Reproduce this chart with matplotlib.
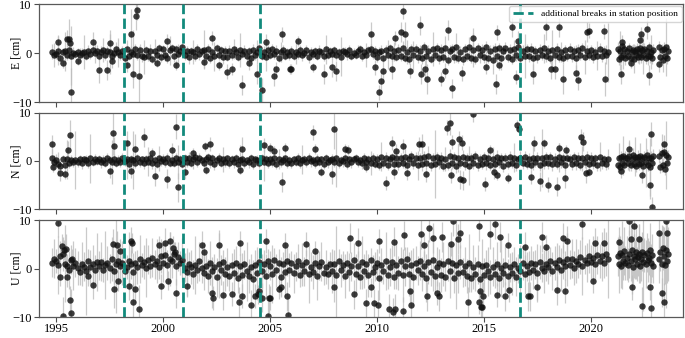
import numpy as np
import matplotlib.pyplot as plt

plt.rcParams['font.family'] = ['Liberation Serif', 'DejaVu Serif']

# -----------------------------
# Sampling epochs (decimal year)
# -----------------------------
t_main = np.round(np.arange(1994.8, 2020.85, 0.1), 2)   # 261 epochs
t_c1 = np.round(np.arange(2021.25, 2021.62, 0.05), 2)   # 8
t_c2 = np.round(np.arange(2021.70, 2022.92, 0.05), 2)   # 25
t_c3 = np.round(np.arange(2023.20, 2023.62, 0.05), 2)   # 9
t_all = np.concatenate([t_main, t_c1, t_c2, t_c3])

breaks = [1998.15, 2000.95, 2004.53, 2016.68]

# -----------------------------
# East [cm]
# -----------------------------
E_vals = [
    0.3, -0.4,
    -0.2, 0.5, -1.0, 0.2, 0.4, -0.3, 0.6, -0.5, 0.1, -0.2,
    0.2, -0.4, 0.1, 0.3, -0.5, 0.4, -0.2, 0.6, 0.0, 0.5,
    -0.6, 0.3, 0.7, -0.4, 0.4, 0.2, -0.5, 0.1, 0.8, 0.2,
    -0.3, 0.5, -1.0, 0.8, -0.6, 0.3, -0.2, 0.9, -0.4, 0.6,
    -0.5, -0.8, 0.6, -0.5, 0.4, -1.2, 0.5, -0.3, 1.0, -0.7,
    0.9, -0.4, -0.9, 0.6, 1.0, -0.6, 0.8, -0.2, 0.5, 1.2,
    -0.3, 0.5, -0.8, 0.4, 0.3, -0.6, 0.9, -0.2, 0.4, 0.7,
    -0.5, 0.8, -0.9, 0.3, -0.6, 1.0, -0.3, 0.6, -0.8, 0.4,
    -0.7, 0.5, -0.4, 0.9, 0.3, -0.8, 0.6, -0.1, 0.5, -0.6,
    0.4, -0.9, 0.7, -0.3, 0.2, 1.1, -0.5, 0.3, -0.7, 0.6,
    -0.4, 0.8, -0.2, 0.5, -0.9, 0.3, 0.6, -0.5, 0.2, -0.3,
    0.5, -0.6, 0.3, -0.2, 0.7, -0.4, 0.1, 0.6, -0.8, 0.3,
    -0.2, 0.4, -0.6, 0.5, 0.2, -0.5, 0.8, -0.3, 0.4, -0.1,
    0.6, -0.4, 0.2, -0.7, 0.5, 0.3, -0.2, 0.7, -0.5, 0.1,
    -0.3, 0.5, 0.8, -0.6, 0.2, -0.4, 0.6, 0.9, -0.2, 0.4,
    -0.7, 0.3, 0.5, -0.9, 0.6, -0.3, 1.0, -0.6, 0.4, -0.8,
    0.7, -0.5, 1.1, -0.9, 0.3, -1.2, 0.8, -0.4, 0.9, -0.7,
    0.5, -1.0, 1.2, -0.6, 0.4, -1.1, 0.8, -0.3, 1.0, -0.9,
    0.6, -0.8, 1.1, -1.3, 0.4, 0.9, -0.7, 1.2, -1.0, 0.3,
    -1.1, 0.8, -0.5, 1.3, -0.9, 0.6, -1.2, 1.0, -0.4, 0.7,
    -0.8, 1.2, -1.0, 0.5, -1.3, 0.9, -0.6, 1.1, -0.9, 0.4,
    1.0, -0.7, 0.6, -1.1, 0.8, -0.4, 1.2, -0.9, 0.5, -0.6,
    0.8, -0.5, 0.9, -1.0, 0.4, -0.8, 0.7, -0.3, 1.0, -0.6,
    0.5, -0.9, 0.7, -0.4, 0.9, -0.7, 0.3, -1.0, 0.6, -0.5,
    0.8, -0.6, 0.4, -0.9, 0.7, -0.3, 1.0, -0.7, 0.5, -0.4,
    0.6, -0.8, 0.3, -0.5, 0.9, -0.6, 0.4, -0.3, 0.2,
    # 2021-2023 clusters
    0.8, -1.2, 0.5, -0.7, 1.4, -0.3, 0.9, -1.0,
    0.4, -0.6, 1.0, -0.9, 0.3, 0.7, -1.1, 0.5, -0.4, 0.9, -0.7, 0.2, 1.1,
    -0.8, 0.6, -0.3, 0.8, -1.0, 0.4, -0.5, 1.2, -0.6, 0.3, -0.9, 0.7,
    1.2, -0.8, 0.6, -1.4, 0.9, -0.5, 1.3, -1.0, 0.4,
]
E_err_mm = [
    15, 25,
    10, 30, 12, 8, 40, 10, 9, 60, 12, 8,
    9, 14, 10, 35, 8, 12, 10, 9, 20, 11,
    8, 12, 25, 9, 10, 45, 11, 8, 14, 30,
    10, 9, 12, 20, 8, 11, 50, 10, 9, 13,
    12, 35, 9, 10, 14, 8, 25, 11, 9, 10,
    8, 11, 10, 30, 9, 12, 8, 20, 10, 9,
    11, 9, 14, 8, 25, 10, 9, 12, 8, 40,
    9, 10, 12, 8, 30, 9, 11, 8, 15, 10,
    8, 12, 9, 20, 10, 8, 35, 9, 11, 10,
    9, 8, 12, 10, 25, 9, 8, 11, 30, 10,
    8, 10, 9, 12, 8, 20, 10, 9, 8, 11,
    9, 8, 25, 10, 9, 11, 8, 10, 12, 9,
    10, 9, 8, 11, 9, 10, 30, 8, 9, 10,
    8, 10, 9, 40, 8, 9, 11, 10, 8, 9,
    9, 11, 8, 10, 9, 25, 8, 10, 9, 11,
    10, 9, 12, 8, 11, 30, 9, 10, 20, 8,
    12, 10, 15, 9, 25, 11, 10, 30, 9, 12,
    11, 13, 10, 20, 12, 9, 35, 11, 10, 14,
    12, 10, 25, 11, 13, 9, 12, 30, 10, 11,
    13, 11, 10, 20, 12, 35, 10, 11, 15, 12,
    11, 14, 10, 12, 30, 11, 13, 10, 25, 12,
    12, 10, 13, 11, 20, 12, 10, 14, 11, 45,
    10, 12, 11, 25, 10, 13, 11, 10, 30, 12,
    11, 10, 40, 12, 11, 10, 20, 13, 11, 10,
    12, 11, 10, 25, 12, 10, 11, 35, 12, 10,
    11, 13, 10, 30, 12, 11, 10, 20, 60,
    15, 12, 40, 14, 13, 30, 12, 15,
    12, 14, 11, 20, 13, 12, 30, 11, 14, 12, 13, 25, 12,
    11, 14, 40, 12, 13, 11, 20, 12, 14, 35, 13, 12,
    14, 16, 13, 25, 15, 14, 60, 13, 15,
]
E_out_t = [1995.1, 1995.3, 1995.5, 1995.6, 1995.65, 1995.7, 1996.0, 1996.7, 1997.0, 1997.4,
           1997.5, 1997.6, 1998.3, 1998.5, 1998.6, 1998.75, 1998.8, 1998.85, 1999.7, 2000.2,
           2000.6, 2001.9, 2002.3, 2002.6, 2003.0, 2003.2, 2003.7, 2004.0, 2004.4, 2004.6,
           2004.8, 2005.2, 2005.3, 2005.55, 2005.95, 2006.0, 2006.3, 2007.0, 2007.5, 2007.9,
           2008.1, 2009.7, 2009.9, 2010.1, 2010.2, 2010.3, 2010.7, 2010.85, 2011.1, 2011.2,
           2011.3, 2011.55, 2012.0, 2012.05, 2012.25, 2012.35, 2013.0, 2013.2, 2013.3, 2013.5,
           2013.95, 2014.5, 2015.1, 2015.56, 2015.6, 2015.7, 2016.3, 2016.5, 2016.6, 2017.3,
           2017.9, 2018.15, 2018.3, 2018.5, 2018.7, 2019.3, 2019.4, 2019.8, 2019.9, 2020.6,
           2020.65, 2021.4, 2021.45, 2021.85, 2022.3, 2022.35, 2022.6, 2022.7, 2023.2]
E_out_v = [2.2, -1.9, 3.0, 3.0, 2.1, -8.0, -1.5, 2.3, -3.5, -3.4,
           2.0, -1.5, -2.4, 4.0, -4.2, 7.7, 8.8, -4.6, -1.9, 2.5,
           -2.4, -1.8, 3.1, -2.5, -3.8, -3.3, -6.5, -2.0, -4.3, -7.5,
           2.4, -4.7, -3.3, 3.9, -3.3, -3.3, 2.5, -2.9, -4.3, -2.9,
           -3.6, 3.9, -2.9, -8.0, -5.7, -3.6, -3.3, 3.1, 4.3, 8.6,
           3.9, -3.6, 5.7, -4.3, -3.3, -5.3, -5.3, -3.6, 4.8, -7.2,
           -4.1, 3.2, -2.8, -6.3, 4.3, -2.5, 5.3, -4.9, 2.5, -4.3,
           5.3, -3.3, -3.2, 5.3, -5.3, -4.0, -5.5, 4.3, 4.6, 4.5,
           -5.3, -4.3, 2.3, -2.0, 2.7, 3.9, 4.9, -4.5, -2.3]
E_out_s = [1.5, 1.2, 1.8, 4.0, 1.0, 5.0, 1.0, 2.0, 2.5, 2.0,
           2.0, 1.5, 1.5, 5.0, 3.0, 3.0, 2.0, 6.0, 1.0, 1.5,
           1.0, 1.2, 1.5, 1.0, 1.5, 1.2, 2.0, 1.5, 2.0, 2.5,
           1.5, 2.0, 1.5, 1.5, 1.0, 1.0, 1.0, 1.0, 2.0, 2.0,
           2.0, 2.5, 1.5, 1.5, 2.0, 2.5, 2.0, 1.5, 2.0, 1.5,
           2.5, 1.5, 2.0, 2.0, 2.0, 3.0, 1.5, 1.5, 2.0, 2.0,
           1.5, 2.0, 1.5, 2.0, 1.5, 1.0, 2.0, 1.5, 2.0, 2.0,
           2.5, 2.0, 2.0, 2.0, 3.0, 1.5, 2.0, 2.0, 1.5, 1.5,
           3.5, 2.0, 1.5, 1.0, 1.0, 1.5, 2.0, 2.0, 1.5]

# -----------------------------
# North [cm]
# -----------------------------
N_vals = [
    0.5, -0.3,
    0.2, -0.6, -1.0, 0.4, -0.8, 0.3, -0.5, 0.1, -0.3, 0.2,
    -0.2, 0.4, -0.5, 0.3, 0.1, -0.4, 0.5, -0.2, 0.3, -0.1,
    0.4, -0.3, 0.2, -0.5, 0.5, 0.1, -0.2, 0.4, -0.4, 0.2,
    -0.3, 0.5, -0.1, 0.3, -0.6, 0.4, 0.1, -0.4, 0.6, -0.2,
    0.3, -0.5, 0.4, -0.2, 0.6, -0.4, 0.2, -0.6, 0.5, -0.1,
    0.4, -0.3, 0.6, -0.5, 0.2, -0.4, 0.5, -0.2, 0.3, -0.6,
    0.5, -0.2, 0.7, -0.4, 0.3, 0.8, -0.3, 0.6, 0.1, -0.5,
    0.4, 0.9, -0.3, 0.5, -0.6, 0.2, 0.7, -0.4, 0.3, -0.2,
    0.5, -0.5, 0.3, -0.3, 0.6, -0.6, 0.2, 0.4, -0.4, 0.1,
    -0.3, 0.5, -0.6, 0.3, 0.1, -0.4, 0.6, -0.2, 0.4, -0.5,
    0.3, -0.2, 0.5, -0.6, 0.4, -0.3, 0.2, 0.6, -0.4, 0.1,
    -0.4, 0.3, -0.2, 0.5, -0.5, 0.2, 0.4, -0.3, 0.6, -0.1,
    0.2, -0.5, 0.4, -0.2, 0.3, -0.6, 0.5, -0.3, 0.1, 0.4,
    -0.3, 0.6, -0.4, 0.2, -0.1, 0.5, -0.6, 0.3, -0.2, 0.4,
    0.5, -0.3, 0.2, -0.5, 0.6, -0.2, 0.3, -0.4, 0.7, -0.6,
    0.4, -0.8, 0.9, -0.5, 0.6, -0.9, 0.3, 0.8, -0.6, 0.5,
    -0.7, 0.6, -0.4, 0.9, -0.8, 0.3, 1.0, -0.5, 0.7, -0.9,
    0.6, -0.7, 0.8, -0.4, 1.0, -0.9, 0.5, -0.6, 0.9, -0.3,
    0.7, -1.0, 0.4, -0.8, 1.1, -0.5, 0.8, -1.1, 0.6, -0.4,
    0.9, -0.7, 0.5, -1.0, 0.7, -0.4, 1.0, -0.8, 0.3, -0.6,
    0.8, -0.5, 0.6, -0.9, 0.4, -0.7, 0.9, -0.3, 0.7, -1.0,
    0.5, -0.6, 0.8, -0.4, 0.6, -0.9, 0.3, 0.7, -0.5, 0.9,
    -0.6, 0.4, -0.8, 0.7, -0.3, 0.6, -0.9, 0.5, -0.4, 0.8,
    -0.5, 0.9, -0.7, 0.4, -0.6, 0.8, -0.3, 0.6, -0.8, 0.5,
    0.3, -0.7, 0.9, -0.4, 0.6, -0.9, 0.5, -0.3, 0.8, -0.6,
    0.7, -0.4, 0.5, -0.8, 0.9, -0.5, 0.3, -0.6, 0.4,
    -0.8, 0.6, -1.2, 0.9, -0.4, 1.1, -0.9, 0.5,
    0.7, -0.5, 1.0, -0.8, 0.4, 1.2, -0.6, 0.9, -1.1, 0.3, 0.8, -0.7, 1.1,
    -0.4, 0.6, -1.0, 0.9, -0.3, 1.2, -0.8, 0.5, -1.2, 0.7, -0.5, 1.0,
    1.0, -1.3, 1.6, -0.8, 1.9, -1.6, 1.2, -0.5, 0.8,
]
N_err_mm = [
    20, 15,
    12, 25, 10, 9, 14, 40, 10, 12, 9, 60,
    10, 9, 12, 8, 11, 10, 50, 9, 12, 8,
    9, 11, 10, 8, 12, 9, 45, 10, 8, 11,
    10, 12, 9, 40, 10, 8, 60, 11, 9, 10,
    8, 11, 9, 30, 10, 12, 8, 9, 25, 10,
    11, 9, 10, 8, 12, 9, 11, 35, 10, 8,
    9, 10, 12, 8, 20, 10, 9, 11, 8, 12,
    10, 8, 11, 9, 12, 8, 10, 9, 25, 11,
    8, 10, 9, 12, 8, 11, 30, 9, 10, 8,
    11, 9, 10, 8, 12, 10, 9, 40, 8, 10,
    9, 11, 8, 10, 20, 9, 10, 8, 11, 9,
    10, 8, 9, 11, 10, 30, 8, 9, 10, 12,
    8, 10, 11, 9, 8, 10, 9, 12, 8, 11,
    9, 60, 10, 8, 11, 9, 10, 8, 12, 9,
    10, 9, 8, 11, 10, 12, 9, 25, 10, 8,
    11, 10, 30, 9, 12, 10, 11, 9, 20, 10,
    12, 11, 10, 25, 11, 13, 10, 12, 11, 30,
    11, 13, 12, 10, 20, 11, 12, 70, 10, 13,
    12, 10, 25, 11, 13, 12, 10, 14, 30, 11,
    13, 11, 12, 40, 10, 12, 11, 13, 12, 10,
    11, 14, 12, 10, 25, 11, 13, 12, 10, 12,
    12, 10, 13, 11, 30, 12, 10, 14, 11, 12,
    10, 12, 11, 25, 10, 13, 11, 60, 12, 10,
    11, 10, 13, 12, 11, 30, 12, 10, 11, 13,
    12, 11, 10, 14, 12, 10, 25, 11, 13, 12,
    11, 13, 10, 12, 30, 11, 10, 12, 20,
    15, 30, 14, 12, 16, 40, 13, 15,
    12, 14, 30, 13, 12, 15, 11, 40, 13, 12, 14, 12, 25,
    13, 11, 14, 12, 50, 13, 12, 14, 60, 13, 12, 14,
    15, 13, 40, 14, 16, 13, 70, 14, 15,
]
N_out_t = [1994.8, 1994.85, 1995.2, 1995.4, 1995.55, 1995.65, 1997.5, 1997.65, 1997.7, 1998.3,
           1998.5, 1998.7, 1999.1, 1999.5, 1999.6, 2000.2, 2000.4, 2000.6, 2000.7, 2001.0,
           2001.4, 2001.95, 2002.2, 2002.0, 2003.7, 2003.6, 2004.7, 2005.0, 2005.2, 2005.55,
           2005.7, 2007.0, 2007.1, 2007.4, 2007.9, 2008.0, 2008.5, 2008.65, 2009.5, 2010.4,
           2010.7, 2010.8, 2010.9, 2011.2, 2011.4, 2011.95, 2012.1, 2012.3, 2013.25, 2013.4,
           2013.5, 2013.45, 2013.9, 2013.85, 2014.5, 2013.95, 2014.0, 2015.05, 2015.3, 2015.45,
           2015.6, 2016.1, 2016.55, 2016.65, 2017.2, 2017.6, 2017.35, 2017.8, 2018.0, 2018.4,
           2018.5, 2018.8, 2018.85, 2019.55, 2019.65, 2019.75, 2019.9, 2021.8, 2021.4, 2022.4,
           2022.8, 2022.75, 2022.85, 2023.4]
N_out_v = [3.4, -1.3, -2.6, -2.8, 2.2, 5.4, -2.0, 5.8, 3.0, 3.6,
           -2.0, 2.5, 4.9, 1.7, -3.2, -3.7, 2.2, 7.1, -5.5, -2.2,
           1.7, 3.0, 3.5, -1.8, 2.4, -1.8, 3.3, 2.7, 2.1, -4.4,
           2.6, 5.9, 2.4, -2.2, -2.7, 6.5, 2.5, 2.2, -1.2, -4.6,
           3.7, -2.3, 2.0, 3.1, -2.5, 3.5, 3.5, -2.8, 6.9, 7.9,
           3.9, -3.0, -3.8, 4.6, 9.6, 3.8, -4.0, -4.8, 2.3, -2.3,
           -3.0, -3.5, 7.4, 6.7, -3.3, -4.2, 3.6, 3.6, -4.9, -5.3,
           2.6, -3.6, 2.3, 5.0, 4.0, -2.5, -2.2, 2.4, -2.0, -3.0,
           5.6, -4.9, -9.5, 3.4]
N_out_s = [2.0, 1.0, 1.5, 1.0, 2.0, 3.0, 1.5, 4.5, 2.0, 2.5,
           1.5, 3.0, 2.0, 1.0, 2.0, 2.0, 1.5, 2.5, 3.0, 1.5,
           1.0, 1.0, 1.5, 1.0, 2.5, 1.0, 1.5, 1.0, 1.0, 2.0,
           1.0, 1.5, 1.0, 1.0, 2.0, 4.0, 1.0, 1.0, 1.0, 1.5,
           1.5, 1.5, 1.5, 1.5, 1.5, 1.5, 2.0, 1.5, 1.5, 2.5,
           1.5, 1.5, 2.0, 1.5, 1.5, 1.5, 2.0, 1.5, 1.0, 1.5,
           1.0, 1.0, 1.0, 1.0, 1.5, 2.0, 1.5, 1.0, 1.5, 2.0,
           1.0, 2.0, 1.0, 1.5, 2.0, 2.0, 1.0, 2.0, 1.5, 1.5,
           2.5, 3.0, 2.0, 2.0]

# -----------------------------
# Up [cm]
# -----------------------------
U_vals = [
    1.2, 2.0,
    1.5, 0.8, 2.6, 3.0, 1.0, 0.5, -0.3, 1.8, 0.6, 1.2,
    0.2, -0.8, 1.0, 0.4, -0.5, 1.5, 0.3, 0.9, -0.2, 1.3,
    0.6, 1.4, -0.3, 0.8, 1.2, 0.1, 1.9, -0.6, 0.9, 1.6,
    0.5, 1.1, -0.5, 0.3, 1.6, 0.9, -0.8, 1.2, 0.4, 2.0,
    0.7, 1.3, 0.2, 1.8, 0.6, 2.2, 0.9, 1.5, 0.3, 2.5,
    1.2, 2.8, 0.8, 2.0, 1.5, 3.0, 0.6, 2.4, 1.1, 1.8,
    0.2, -0.8, 1.0, 0.3, -1.2, 0.8, -0.4, 1.5, 0.1, -0.9,
    0.6, -1.5, 1.2, -0.6, 0.4, -1.8, 0.9, -0.3, 1.4, -1.1,
    0.3, -1.6, 0.8, -0.9, 1.2, -2.0, 0.5, -1.3, 0.9, -0.6,
    -1.5, 0.4, -2.2, 0.8, -1.0, 1.3, -0.5, 0.9, -1.6, 1.5,
    0.6, -1.2, 1.8, -0.4, 1.1, -1.7, 0.9, -0.8, 1.5, -0.3,
    1.2, -1.0, 0.5, 1.6, -1.4, 0.8, -0.6, 1.3, -1.1, 0.4,
    -0.8, 1.1, -1.5, 0.6, 1.4, -0.9, 0.3, -1.2, 1.0, -0.5,
    0.9, -1.3, 1.5, -0.4, 0.7, -1.6, 1.2, -0.7, 0.5, 1.8,
    -1.1, 0.6, -1.8, 1.3, -0.5, 0.9, -1.4, 1.7, -0.8, 0.4,
    1.1, -1.9, 0.7, -0.6, 1.6, -1.3, 0.3, 1.4, -1.7, 0.8,
    -0.9, 1.5, -1.4, 0.5, 1.9, -1.1, 0.8, -1.8, 1.2, -0.4,
    1.6, -1.2, 0.6, -1.9, 1.3, -0.7, 1.8, -1.5, 0.4, 1.1,
    -1.3, 0.9, -1.7, 1.5, -0.6, 1.2, -2.0, 0.7, -1.0, 1.4,
    -0.8, 0.5, -1.6, 1.1, -1.9, 0.3, -1.2, 0.9, -2.1, 0.6,
    -1.4, 0.8, -0.6, -1.8, 0.4, -1.1, 1.0, -2.0, 0.2, -0.9,
    0.7, -1.5, 0.3, -1.0, 0.9, -1.7, 0.1, -0.6, 1.1, -1.2,
    0.5, -0.8, 1.2, -0.3, 0.9, -1.0, 1.4, 0.2, -0.6, 1.0,
    0.4, 1.5, -0.5, 1.1, 0.3, 1.8, -0.2, 1.3, 0.6, 1.9,
    0.8, 2.0, 0.2, 1.6, 1.0, 2.4, 0.5, 1.8, 1.2, 2.6,
    1.4, 2.2, 0.9, 2.8, 1.6, 2.5, 1.1, 3.0, 2.0,
    2.5, 1.0, 3.2, 0.5, 2.8, 1.6, 3.6, 1.2,
    2.2, 0.8, 3.0, 1.5, 3.8, 0.4, 2.6, 1.9, 3.4, 1.0, 2.4, 3.1, 0.6,
    2.0, 3.5, 1.3, 2.8, 0.9, 3.3, 1.7, 2.2, 3.9, 1.1, 2.7, 0.5,
    2.0, 3.5, 1.0, 4.2, 2.6, 0.8, 3.8, 1.5, 3.0,
]
U_err_mm = [
    30, 40,
    25, 60, 30, 35, 80, 25, 40, 30, 50, 30,
    35, 25, 45, 30, 90, 25, 35, 40, 30, 60,
    30, 40, 25, 70, 35, 30, 45, 25, 100, 35,
    30, 45, 35, 25, 60, 30, 40, 25, 35, 50,
    25, 35, 60, 30, 25, 40, 30, 45, 25, 35,
    40, 25, 30, 55, 35, 25, 40, 30, 25, 45,
    30, 50, 25, 35, 30, 60, 25, 40, 30, 35,
    25, 35, 45, 30, 25, 40, 70, 30, 25, 35,
    40, 30, 25, 50, 35, 30, 25, 45, 30, 60,
    35, 25, 40, 30, 55, 25, 35, 30, 45, 25,
    30, 60, 25, 35, 30, 40, 25, 50, 30, 35,
    25, 40, 30, 35, 25, 45, 30, 25, 60, 30,
    35, 25, 50, 30, 40, 25, 35, 30, 25, 45,
    30, 100, 25, 35, 30, 45, 25, 40, 30, 35,
    40, 30, 25, 55, 35, 30, 45, 25, 35, 30,
    30, 45, 35, 25, 60, 30, 40, 35, 25, 50,
    35, 30, 55, 40, 25, 45, 30, 60, 35, 30,
    40, 35, 30, 50, 45, 30, 65, 35, 40, 30,
    35, 45, 30, 40, 55, 35, 30, 90, 40, 35,
    30, 40, 35, 60, 30, 45, 35, 40, 30, 55,
    35, 30, 50, 35, 40, 30, 45, 35, 60, 30,
    40, 35, 30, 45, 35, 40, 30, 55, 35, 40,
    30, 45, 35, 40, 30, 60, 35, 30, 45, 35,
    35, 30, 40, 35, 50, 30, 45, 35, 30, 55,
    30, 40, 35, 45, 30, 35, 60, 30, 40, 35,
    35, 45, 30, 40, 35, 50, 30, 45, 80,
    40, 60, 35, 45, 70, 40, 50, 35,
    45, 35, 50, 40, 90, 35, 45, 40, 55, 35, 40, 60, 35,
    45, 40, 100, 35, 50, 40, 45, 35, 55, 40, 45, 35,
    50, 40, 80, 45, 60, 40, 120, 45, 55,
]
U_out_t = [1995.1, 1995.25, 1995.2, 1995.3, 1995.35, 1995.45, 1995.65, 1995.7, 1995.5, 1995.75,
           1996.5, 1996.7, 1997.65, 1997.7, 1997.85, 1997.9, 1998.0, 1998.5, 1998.55, 1998.4,
           1998.6, 1998.85, 1998.7, 1999.8, 1999.9, 2000.1, 2000.3, 2000.45, 2000.25, 2000.6,
           2000.55, 2001.1, 2001.8, 2001.9, 2002.3, 2002.35, 2002.8, 2002.6, 2003.2, 2003.55,
           2003.6, 2003.7, 2004.1, 2004.3, 2004.45, 2004.5, 2004.6, 2004.8, 2004.9, 2004.95,
           2005.0, 2005.4, 2005.5, 2005.7, 2005.8, 2005.85, 2006.7, 2007.1, 2008.0, 2008.75,
           2008.9, 2009.1, 2009.5, 2009.7, 2009.85, 2010.05, 2010.1, 2010.55, 2010.75, 2010.85,
           2010.8, 2011.2, 2011.25, 2011.6, 2011.55, 2012.05, 2012.2, 2012.35, 2012.45, 2012.6,
           2012.8, 2012.9, 2013.05, 2013.45, 2013.55, 2013.8, 2013.9, 2014.25, 2014.75, 2014.78,
           2014.85, 2014.9, 2014.82, 2014.95, 2015.3, 2015.5, 2015.6, 2015.75, 2016.0, 2016.1,
           2016.15, 2016.9, 2017.05, 2017.15, 2017.5, 2017.7, 2017.9, 2018.4, 2018.7, 2018.8,
           2018.9, 2019.6, 2020.1, 2020.2, 2020.6, 2021.3, 2021.8, 2021.85, 2021.9, 2022.0,
           2022.25, 2022.4, 2022.75, 2022.8, 2023.2, 2023.3, 2023.4, 2023.5, 2023.55]
U_out_v = [9.4, 4.7, -1.7, -9.8, 3.8, 4.1, -6.5, -9.2, -1.8, 2.0,
           -1.5, -3.3, 5.1, -4.2, 4.8, -2.6, 3.6, 5.6, 5.3, -3.5,
           -6.9, -8.3, -4.2, 4.8, -3.7, 5.3, 5.6, 4.2, -2.5, -5.1,
           3.5, -3.7, 4.8, 3.5, -5.1, -6.0, -5.5, 4.9, -5.3, -6.9,
           5.3, -5.7, -7.5, -5.7, -5.3, -4.6, -6.0, 5.7, -9.8, -6.1,
           -6.1, -4.2, -3.9, 4.9, -5.7, -9.6, 5.1, 3.7, -3.9, 6.3,
           -5.3, 5.3, -7.2, -3.9, -7.2, -7.5, 5.7, -8.3, -9.0, -8.3,
           5.5, -8.8, 6.9, -7.5, -4.6, 7.1, 4.8, -5.7, 8.4, 6.3,
           -5.0, -5.7, 6.5, 5.1, 9.8, 6.1, 7.3, -6.9, 8.7, -6.9,
           -7.9, -7.9, -4.6, -5.7, 7.1, 9.1, -5.5, 6.5, -5.7, 4.8,
           -4.5, 4.5, -5.7, -5.7, -3.9, 6.5, 4.5, -4.5, 6.3, -4.6,
           5.7, 9.1, -2.6, 5.3, 5.3, 5.5, 9.9, 6.1, -3.9, 8.7,
           6.1, -7.8, -3.9, -8.2, 7.3, -5.0, -7.0, 9.8, 7.3]
U_out_s = [3.0, 2.5, 2.0, 4.0, 2.0, 3.0, 3.0, 5.0, 2.0, 2.0,
           2.0, 3.0, 3.0, 4.0, 3.0, 2.0, 2.5, 3.0, 2.0, 3.0,
           4.0, 5.0, 3.0, 2.0, 2.5, 3.0, 2.0, 2.5, 2.0, 3.0,
           2.0, 2.0, 3.0, 2.0, 3.0, 2.5, 3.0, 2.5, 2.5, 3.0,
           2.5, 2.5, 3.0, 2.5, 2.0, 2.0, 3.0, 2.5, 4.0, 3.0,
           2.5, 2.0, 2.0, 2.5, 3.0, 4.0, 2.5, 2.0, 3.0, 3.0,
           3.0, 3.0, 3.0, 2.0, 3.0, 3.0, 2.5, 3.0, 3.0, 3.0,
           3.0, 3.0, 3.0, 3.0, 2.5, 3.0, 2.5, 3.0, 3.0, 3.0,
           2.5, 3.0, 3.0, 2.5, 3.0, 3.0, 3.0, 3.0, 3.0, 2.5,
           3.0, 3.0, 2.5, 3.0, 3.0, 3.0, 2.5, 3.0, 3.0, 2.5,
           2.5, 3.0, 3.0, 3.0, 2.5, 3.0, 2.5, 3.0, 3.0, 2.5,
           3.0, 3.0, 2.5, 3.0, 3.0, 3.0, 3.0, 3.0, 2.5, 3.0,
           3.0, 4.0, 2.5, 4.0, 3.0, 3.0, 4.0, 3.0, 3.0]

# -----------------------------
# Figure
# -----------------------------
teal = '#128a7c'
fig = plt.figure(figsize=(6.85, 3.38), dpi=100)
boxes = [[0.057, 0.698, 0.940, 0.289],
         [0.057, 0.381, 0.940, 0.286],
         [0.057, 0.062, 0.940, 0.287]]

panels = [
    ("E [cm]", E_vals, E_err_mm, E_out_t, E_out_v, E_out_s),
    ("N [cm]", N_vals, N_err_mm, N_out_t, N_out_v, N_out_s),
    ("U [cm]", U_vals, U_err_mm, U_out_t, U_out_v, U_out_s),
]

for i, (label, vals, err_mm, ot, ov, os_) in enumerate(panels):
    assert len(vals) == len(t_all) and len(err_mm) == len(t_all), (label, len(vals), len(err_mm))
    assert len(ot) == len(ov) == len(os_), (label, len(ot), len(ov), len(os_))
    ax = fig.add_axes(boxes[i])
    t = np.concatenate([t_all, ot])
    y = np.concatenate([vals, ov])
    e = np.concatenate([np.array(err_mm) / 10.0, os_])

    ax.errorbar(t, y, yerr=e, fmt='none', ecolor='#bdbdbd', elinewidth=0.9,
                alpha=0.8, zorder=1)
    ax.plot(t, y, 'o', ms=4.6, color='#111111', alpha=0.82, mec='none', zorder=2)

    for j, b in enumerate(breaks):
        ax.axvline(b, color=teal, ls='--', lw=2.0, zorder=3,
                   label="additional breaks in station position" if j == 0 else None)

    ax.set_xlim(1994.2, 2024.3)
    ax.set_ylim(-10, 10)
    ax.set_yticks([-10, 0, 10])
    ax.set_xticks([1995, 2000, 2005, 2010, 2015, 2020])
    ax.set_ylabel(label, fontsize=8.5)
    ax.yaxis.set_label_coords(-0.026, 0.5)
    ax.tick_params(labelsize=9, length=3.5, width=0.8, color='0.3', pad=2)
    ax.tick_params(axis='x', pad=1)
    for sp in ax.spines.values():
        sp.set_color('0.35')
        sp.set_linewidth(0.9)
    if i < 2:
        ax.tick_params(labelbottom=False)
    if i == 0:
        ax.legend(loc='upper right', fontsize=6.8, frameon=True, fancybox=True,
                  borderaxespad=0.15, handlelength=2.2, edgecolor='0.8')

plt.savefig("out.png", dpi=100)
